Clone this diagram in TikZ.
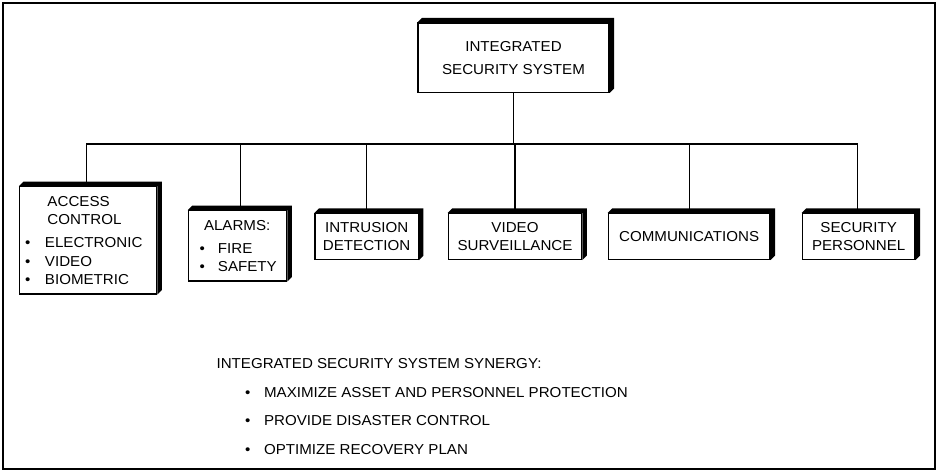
\documentclass[tikz,border=0pt]{standalone}
\usepackage{fontspec}
\setmainfont{Liberation Sans}[FakeStretch=1.05]
\usetikzlibrary{positioning}

\newcommand{\itm}[2][10pt]{\makebox[#1][l]{\textbullet}#2}

\begin{document}
\begin{tikzpicture}[x=0.5pt, y=-0.5pt, line width=0.6pt,
    every node/.style={font=\fontsize{7.2}{9.25}\selectfont, inner sep=0pt},
    unit/.style={draw, fill=white, align=center, minimum height=23pt},
    shade/.style={fill=black}]
  \useasboundingbox (0,0) rectangle (941,473);
  \draw (3,3) rectangle (935,469);

  \node[unit, minimum width=95.5pt, minimum height=34.65pt, font=\fontsize{7.2}{11.4}\selectfont] (top) at (513.5,57.7) {INTEGRATED\\SECURITY SYSTEM};

  \node[unit, align=left, text width=63.1pt, inner xsep=2.75pt, minimum height=53.65pt] (acc) at (88.1,240.4)
    {\hspace*{11.25pt}ACCESS\\ \hspace*{11.25pt}CONTROL\\[2.15pt] \itm{ELECTRONIC}\\ \itm{VIDEO}\\ \itm{BIOMETRIC}};
  \node[unit, align=left, text width=38pt, inner xsep=5.6pt, minimum height=35.15pt] (alm) at (237.5,245.9)
    {\hspace*{2.25pt}ALARMS:\\[2.15pt] \itm[9.25pt]{FIRE}\\ \itm[9.25pt]{SAFETY}};
  \node[unit, minimum width=51.65pt] (intr) at (366.65,236.5) {INTRUSION\\DETECTION};
  \node[unit, minimum width=66.7pt] (vid) at (515,236.5) {VIDEO\\SURVEILLANCE};
  \node[unit, minimum width=80.85pt] (comm) at (689.15,236.5) {COMMUNICATIONS};
  \node[unit, minimum width=56.35pt] (pers) at (858.65,236.5) {SECURITY\\PERSONNEL};

  \foreach \n in {top,acc,alm,intr,vid,comm,pers}
    \fill[shade] (\n.north west) -- ([shift={(2.25pt,2.25pt)}]\n.north west)
      -- ([shift={(2.25pt,2.25pt)}]\n.north east) -- ([shift={(2.25pt,2.25pt)}]\n.south east)
      -- (\n.south east) -- (\n.north east) -- cycle;

  \coordinate (bus) at (0,144);
  \foreach \c/\dx in {acc/-1pt,alm/1.6pt,intr/0pt,vid/0pt,comm/0pt,pers/-0.6pt}
    \draw (top.south) -- (top.south |- bus) -| ([xshift=\dx]\c.north);

  \node[anchor=base west] (syn) at (216,368) {INTEGRATED SECURITY SYSTEM SYNERGY:};
  \node[anchor=base west] (syn1) at (244.5,397) {\itm[9.5pt]{MAXIMIZE ASSET AND PERSONNEL PROTECTION}};
  \node[anchor=base west] (syn2) at (244.5,425) {\itm[9.5pt]{PROVIDE DISASTER CONTROL}};
  \node[anchor=base west] (syn3) at (244.5,454) {\itm[9.5pt]{OPTIMIZE RECOVERY PLAN}};
\end{tikzpicture}
\end{document}
